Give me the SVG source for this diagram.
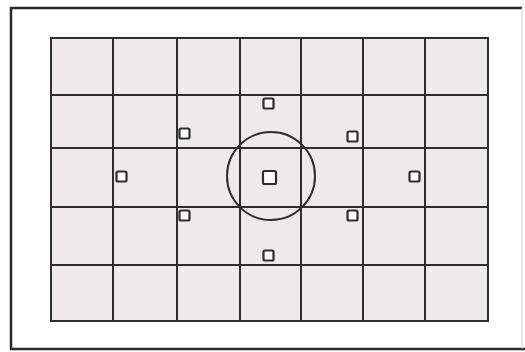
<svg xmlns="http://www.w3.org/2000/svg" width="525" height="352" viewBox="0 0 525 352">
<style>
.frame{fill:#fff;stroke:#2a2a2a;stroke-width:2.5}
.grid{fill:none;stroke:#2e2e2e;stroke-width:2}
.pt{fill:#fff;stroke:#2e2e2e;stroke-width:2.2}
.ring{fill:none;stroke:#2e2e2e;stroke-width:2}
</style>
<rect width="525" height="352" fill="#fff"/>
<g id="frame">
<path class="frame" d="M522,8 H11 V349 H525"/>
<line x1="522" y1="8" x2="522" y2="349" stroke="#cfcfcf" stroke-width="1"/>
</g>
<g id="grid">
<rect x="51" y="38" width="437" height="283" fill="#eeeaec"/>
<g class="grid">
<rect x="51" y="38" width="437" height="283"/>
<path d="M113,38V321M177,38V321M240,38V321M301,38V321M363,38V321M425,38V321"/>
<path d="M51,95H488M51,148H488M51,207H488M51,265H488"/>
</g>
</g>
<g id="points">
<circle class="ring" cx="271" cy="176" r="44"/>
<rect class="pt" x="263" y="171" width="13" height="13" rx="1.5" stroke-width="2.6"/>
<rect class="pt" x="263.5" y="98.5" width="10" height="10" rx="1.5"/>
<rect class="pt" x="179.5" y="128.5" width="10" height="10" rx="1.5"/>
<rect class="pt" x="347.5" y="131.5" width="10" height="10" rx="1.5"/>
<rect class="pt" x="116.5" y="171.5" width="10" height="10" rx="1.5"/>
<rect class="pt" x="409.5" y="171.5" width="10" height="10" rx="1.5"/>
<rect class="pt" x="179.5" y="210.5" width="10" height="10" rx="1.5"/>
<rect class="pt" x="347.5" y="210.5" width="10" height="10" rx="1.5"/>
<rect class="pt" x="263.5" y="250.5" width="10" height="10" rx="1.5"/>
</g>
</svg>
